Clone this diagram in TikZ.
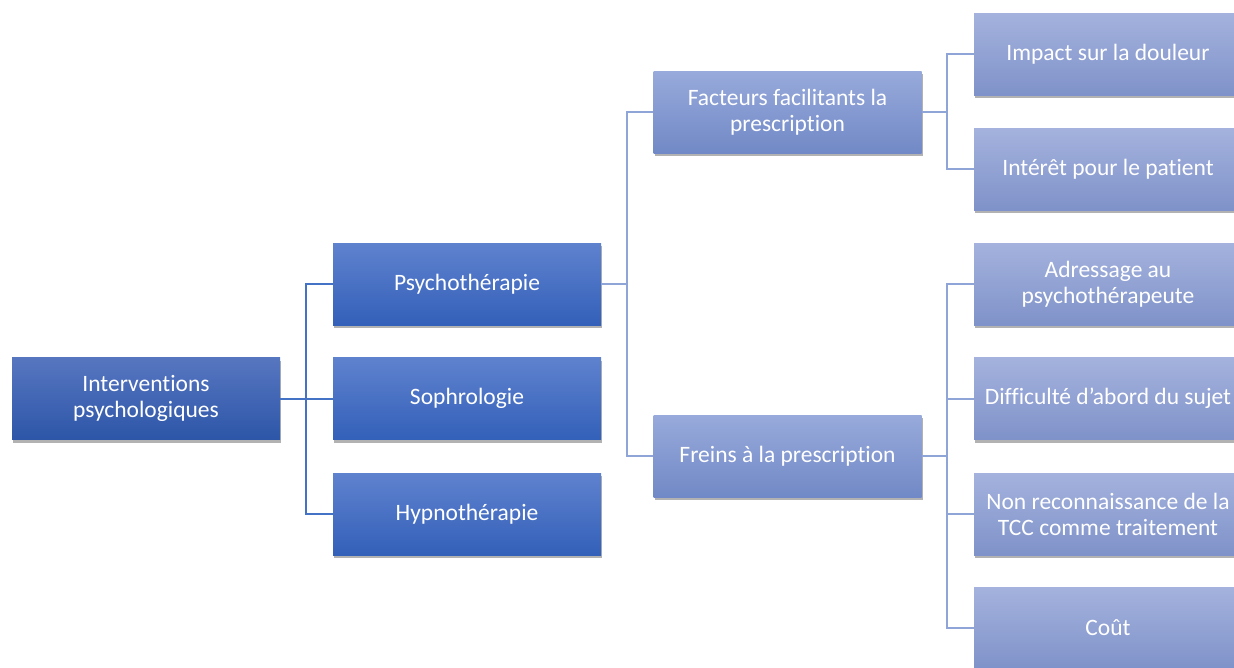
\documentclass[tikz,border=0pt]{standalone}
\usepackage{fontspec}
\setmainfont{Carlito}[Ligatures=ResetAll, Ligatures=NoCommon]
\usetikzlibrary{shadows}
\definecolor{darktop}{HTML}{5F82CE}
\definecolor{darkbot}{HTML}{3360B9}
\definecolor{roottop}{HTML}{5776C0}
\definecolor{rootbot}{HTML}{2D56A8}
\definecolor{lighttop}{HTML}{A4B2DD}
\definecolor{lightbot}{HTML}{7F92C9}
\definecolor{midtop}{HTML}{98AADB}
\definecolor{midbot}{HTML}{7189C6}
\definecolor{darkline}{HTML}{4472C4}
\definecolor{lightline}{HTML}{8FA5D8}
\tikzset{
  box/.style={rectangle, minimum width=268pt, minimum height=82pt, inner sep=0pt,
    text=white, align=center, font=\fontsize{23.5}{26}\selectfont,
    drop shadow={shadow xshift=1pt, shadow yshift=-3pt, opacity=0.3, fill=black}},
  rootbox/.style={box, top color=roottop, bottom color=rootbot},
  darkbox/.style={box, top color=darktop, bottom color=darkbot},
  midbox/.style={box, top color=midtop, bottom color=midbot},
  lightbox/.style={box, top color=lighttop, bottom color=lightbot},
  darkconn/.style={draw=darkline, line width=2pt},
  lightconn/.style={draw=lightline, line width=2pt},
}
\begin{document}
\begin{tikzpicture}[x=1pt,y=-1pt]
\useasboundingbox (0,0) rectangle (1234,667);
\clip (0,0) rectangle (1234,667);
\fill[white] (0,0) rectangle (1234,667);
\coordinate (b0) at (306,398);
\coordinate (b1) at (627,284);
\coordinate (b2a) at (947,112);
\coordinate (b2b) at (947,456);
\node[rootbox] (root) at (146,398.5) {Interventions\\psychologiques};
\node[darkbox] (psy) at (467,284) {Psychothérapie};
\node[darkbox] (sop) at (467,398.5) {Sophrologie};
\node[darkbox] (hyp) at (467,514) {Hypnothérapie};
\node[midbox] (fac) at (787.5,112) {Facteurs facilitants la\\prescription};
\node[midbox] (fre) at (787.5,456) {Freins à la prescription};
\node[lightbox] (imp) at (1108,54) {Impact sur la douleur};
\node[lightbox] (int) at (1108,169) {Intérêt pour le patient};
\node[lightbox] (adr) at (1108,284) {Adressage au\\psychothérapeute};
\node[lightbox] (dif) at (1108,398.5) {Difficulté d'abord du sujet};
\node[lightbox] (non) at (1108,514) {Non reconnaissance de la\\TCC comme traitement};
\node[lightbox] (cou) at (1108,628) {Coût};
\draw[darkconn] (root.east) -- (sop.west);
\draw[darkconn] (psy.west) -| (b0) |- (hyp.west);
\draw[lightconn] (psy.east) -- (b1);
\draw[lightconn] (fac.west) -| (b1) |- (fre.west);
\draw[lightconn] (fac.east) -- (b2a);
\draw[lightconn] (imp.west) -| (b2a) |- (int.west);
\draw[lightconn] (fre.east) -- (b2b);
\draw[lightconn] (adr.west) -| (b2b) |- (cou.west);
\draw[lightconn] (b2b |- dif.west) -- (dif.west);
\draw[lightconn] (b2b |- non.west) -- (non.west);
\end{tikzpicture}
\end{document}
